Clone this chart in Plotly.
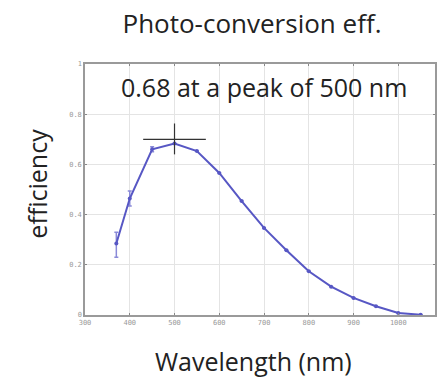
import plotly.graph_objects as go

# Measured photo-conversion efficiency vs wavelength
wavelength = [370, 400, 450, 500, 550, 600, 650, 700, 750, 800, 850, 900, 950, 1000, 1050]
efficiency = [0.285, 0.464, 0.66, 0.683, 0.653, 0.566, 0.454, 0.347, 0.258, 0.174, 0.113, 0.068, 0.035, 0.008, 0.001]
err_plus = [0.045, 0.03, 0.01] + [0] * 12
err_minus = [0.055, 0.03, 0.01] + [0] * 12

# Peak marker (crosshair) and its label
peak_x = 500
peak_y = 0.70
cross_dx = 70
cross_dy = (0.64, 0.763)
peak_label = "0.68 at a peak of 500 nm"

x_ticks = [300, 400, 500, 600, 700, 800, 900, 1000]
y_ticks = [0, 0.2, 0.4, 0.6, 0.8, 1]
y_tick_text = ["0", "0.2", "0.4", "0.6", "0.8", "1"]

line_color = "#5757c4"
text_font = "Open Sans"
text_color = "#222222"

fig = go.Figure()
fig.add_trace(go.Scatter(
    x=wavelength, y=efficiency, mode="lines+markers",
    line=dict(color=line_color, width=2),
    marker=dict(color=line_color, size=4),
    error_y=dict(type="data", array=err_plus, arrayminus=err_minus,
                 color="#8a8ad8", thickness=1.5, width=2),
    showlegend=False,
))

# Crosshair at the peak
fig.add_trace(go.Scatter(
    x=[peak_x - cross_dx, peak_x + cross_dx, None, peak_x, peak_x],
    y=[peak_y, peak_y, None, cross_dy[0], cross_dy[1]],
    mode="lines", line=dict(color="#333333", width=1.2),
    showlegend=False, hoverinfo="skip",
))

fig.add_annotation(x=700, y=0.91, xref="x", yref="y", text=peak_label,
                   xanchor="center", yanchor="middle", showarrow=False,
                   font=dict(family=text_font, size=25, color=text_color))

fig.add_annotation(x=-0.136, y=0.525, xref="paper", yref="paper", text="efficiency",
                   textangle=-90, xanchor="center", yanchor="middle", showarrow=False,
                   font=dict(family=text_font, size=25, color=text_color))
fig.add_annotation(x=0.48, y=-0.185, xref="paper", yref="paper", text="Wavelength (nm)",
                   xanchor="center", yanchor="middle", showarrow=False,
                   font=dict(family=text_font, size=25, color=text_color))

axis_common = dict(
    showgrid=True, gridcolor="#e4e4e4", gridwidth=1,
    showline=True, linecolor="#9a9a9a", linewidth=1.5,
    ticks="inside", ticklen=2, tickcolor="#888888",
    mirror="ticks", zeroline=False,
    tickfont=dict(family="DejaVu Sans Mono", size=7, color="#999999"),
)

fig.update_xaxes(range=[300, 1082], tickvals=x_ticks, **axis_common)
fig.update_yaxes(range=[0, 1], tickvals=y_ticks, ticktext=y_tick_text, **axis_common)

fig.update_layout(
    width=439, height=379,
    margin=dict(l=85, r=2, t=64, b=64),
    paper_bgcolor="white", plot_bgcolor="white",
    title=dict(text="Photo-conversion eff.", x=0.574, xanchor="center",
               y=0.937, yanchor="middle",
               font=dict(family=text_font, size=26, color=text_color)),
)

fig.write_html("out.html")
